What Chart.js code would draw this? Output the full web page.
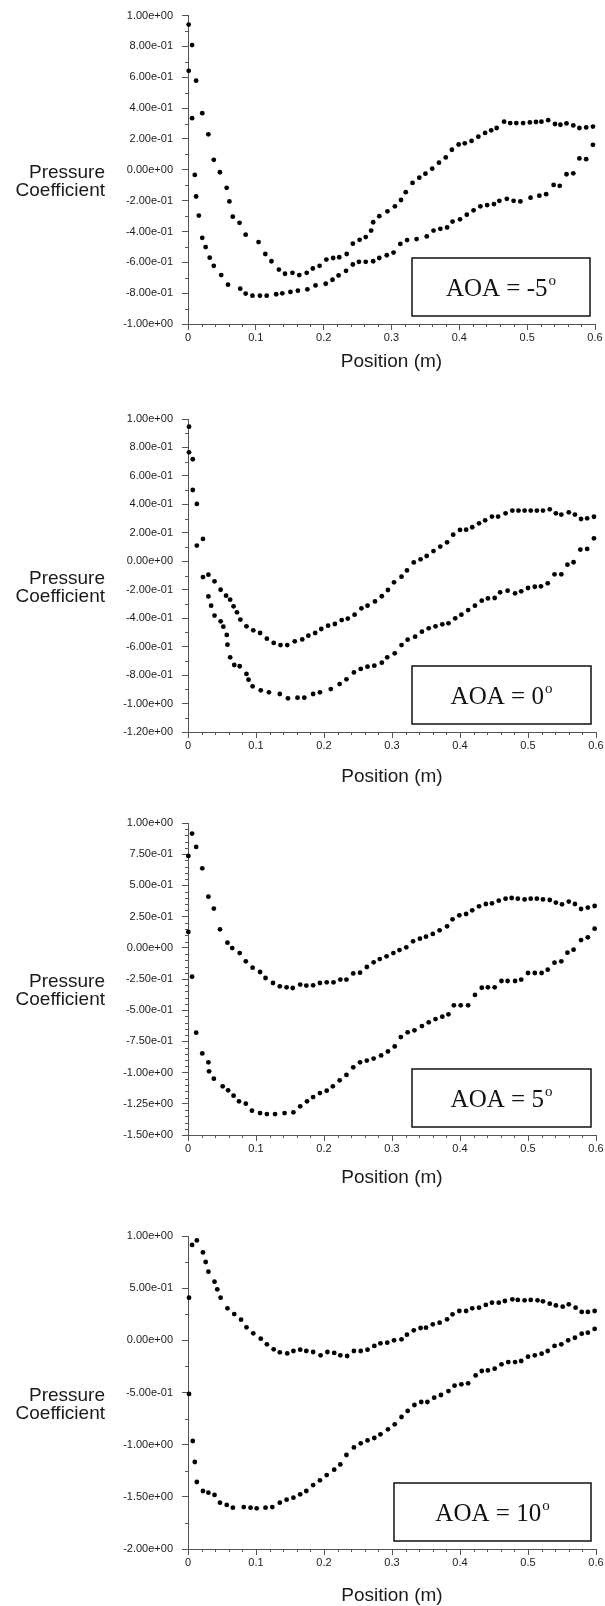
<!DOCTYPE html>
<html>
<head>
<meta charset="utf-8">
<title>Pressure Coefficient</title>
<script src="https://cdn.jsdelivr.net/npm/chart.js@4.4.1/dist/chart.umd.min.js"></script>
<style>
body { margin: 0; background: #fff; }
#page { position: relative; width: 605px; height: 1606px; overflow: hidden; }
#page canvas { position: absolute; left: 0; }
</style>
</head>
<body>
<div id="page">
    <canvas id="cpM5" width="605" height="390" style="top:0px"></canvas>
    <canvas id="cp0" width="605" height="400" style="top:390px"></canvas>
    <canvas id="cp5" width="605" height="400" style="top:790px"></canvas>
    <canvas id="cp10" width="605" height="416" style="top:1190px"></canvas>
</div>
<script>
"use strict";

// [position (m), Cp] for each surface
let aoaM5Upper = [[0.001,0.942],[0.006,0.809],[0.012,0.578],[0.021,0.367],[0.030,0.230],[0.038,0.065],[0.047,-0.016],[0.057,-0.117],[0.061,-0.205],[0.066,-0.304],[0.076,-0.344],[0.085,-0.421],[0.104,-0.469],[0.114,-0.546],[0.123,-0.593],[0.134,-0.647],[0.143,-0.674],[0.154,-0.668],[0.164,-0.683],[0.175,-0.668],[0.184,-0.640],[0.194,-0.623],[0.204,-0.582],[0.214,-0.572],[0.223,-0.567],[0.234,-0.546],[0.243,-0.479],[0.253,-0.454],[0.262,-0.436],[0.270,-0.394],[0.273,-0.340],[0.282,-0.301],[0.294,-0.269],[0.305,-0.237],[0.314,-0.196],[0.321,-0.145],[0.331,-0.085],[0.341,-0.051],[0.350,-0.025],[0.360,0.007],[0.370,0.046],[0.380,0.080],[0.389,0.130],[0.399,0.164],[0.408,0.172],[0.418,0.187],[0.428,0.215],[0.438,0.239],[0.447,0.256],[0.455,0.271],[0.466,0.312],[0.475,0.303],[0.484,0.303],[0.494,0.303],[0.504,0.307],[0.513,0.310],[0.521,0.312],[0.531,0.322],[0.541,0.297],[0.549,0.292],[0.558,0.301],[0.568,0.288],[0.577,0.271],[0.587,0.275],[0.597,0.280]];
let aoaM5Lower = [[0.001,0.642],[0.006,0.335],[0.010,-0.033],[0.012,-0.173],[0.016,-0.297],[0.021,-0.441],[0.026,-0.501],[0.032,-0.570],[0.038,-0.623],[0.049,-0.683],[0.059,-0.745],[0.077,-0.771],[0.085,-0.803],[0.095,-0.816],[0.106,-0.816],[0.116,-0.816],[0.130,-0.807],[0.139,-0.801],[0.151,-0.792],[0.162,-0.784],[0.176,-0.775],[0.188,-0.750],[0.203,-0.739],[0.213,-0.713],[0.222,-0.685],[0.233,-0.655],[0.243,-0.614],[0.252,-0.597],[0.262,-0.597],[0.273,-0.593],[0.282,-0.572],[0.293,-0.554],[0.303,-0.537],[0.313,-0.481],[0.323,-0.456],[0.337,-0.449],[0.352,-0.432],[0.362,-0.394],[0.372,-0.383],[0.382,-0.374],[0.390,-0.336],[0.401,-0.321],[0.411,-0.291],[0.421,-0.263],[0.431,-0.237],[0.441,-0.229],[0.451,-0.222],[0.459,-0.201],[0.470,-0.188],[0.480,-0.201],[0.490,-0.205],[0.505,-0.181],[0.518,-0.168],[0.528,-0.158],[0.539,-0.098],[0.548,-0.104],[0.558,-0.029],[0.568,-0.023],[0.577,0.074],[0.587,0.069],[0.597,0.162]];

let aoa0Upper = [[0.0015,0.946],[0.007,0.717],[0.013,0.403],[0.022,0.157],[0.030,-0.094],[0.039,-0.141],[0.048,-0.200],[0.056,-0.242],[0.062,-0.270],[0.067,-0.317],[0.072,-0.359],[0.077,-0.410],[0.086,-0.457],[0.096,-0.485],[0.106,-0.504],[0.116,-0.544],[0.126,-0.574],[0.136,-0.589],[0.146,-0.589],[0.157,-0.563],[0.168,-0.549],[0.177,-0.523],[0.187,-0.504],[0.196,-0.476],[0.206,-0.453],[0.216,-0.441],[0.226,-0.413],[0.235,-0.403],[0.245,-0.375],[0.255,-0.331],[0.264,-0.312],[0.275,-0.282],[0.285,-0.246],[0.294,-0.202],[0.303,-0.148],[0.314,-0.108],[0.322,-0.064],[0.332,-0.008],[0.342,0.014],[0.351,0.037],[0.361,0.072],[0.371,0.103],[0.381,0.133],[0.390,0.187],[0.400,0.220],[0.409,0.222],[0.418,0.239],[0.428,0.267],[0.437,0.288],[0.447,0.314],[0.456,0.314],[0.467,0.337],[0.477,0.356],[0.486,0.356],[0.495,0.356],[0.504,0.356],[0.513,0.356],[0.522,0.356],[0.532,0.365],[0.541,0.337],[0.549,0.328],[0.560,0.344],[0.569,0.328],[0.578,0.297],[0.587,0.302],[0.597,0.313]];
let aoa0Lower = [[0.0015,0.766],[0.007,0.501],[0.013,0.110],[0.022,-0.111],[0.030,-0.247],[0.034,-0.312],[0.039,-0.382],[0.048,-0.422],[0.052,-0.460],[0.057,-0.518],[0.058,-0.586],[0.062,-0.675],[0.068,-0.729],[0.076,-0.738],[0.086,-0.792],[0.089,-0.832],[0.095,-0.879],[0.107,-0.907],[0.119,-0.921],[0.135,-0.933],[0.147,-0.963],[0.161,-0.959],[0.171,-0.959],[0.184,-0.933],[0.194,-0.921],[0.210,-0.898],[0.223,-0.863],[0.233,-0.830],[0.244,-0.781],[0.254,-0.757],[0.264,-0.741],[0.274,-0.734],[0.285,-0.713],[0.293,-0.675],[0.304,-0.647],[0.314,-0.589],[0.323,-0.551],[0.334,-0.530],[0.344,-0.495],[0.354,-0.471],[0.364,-0.457],[0.374,-0.443],[0.383,-0.436],[0.393,-0.401],[0.402,-0.375],[0.412,-0.343],[0.422,-0.312],[0.432,-0.277],[0.441,-0.261],[0.451,-0.258],[0.459,-0.218],[0.470,-0.207],[0.481,-0.225],[0.490,-0.211],[0.500,-0.188],[0.510,-0.179],[0.519,-0.176],[0.529,-0.155],[0.539,-0.092],[0.549,-0.092],[0.558,-0.024],[0.567,-0.007],[0.577,0.082],[0.587,0.087],[0.597,0.161]];

let aoa5Upper = [[0.0005,0.736],[0.006,0.915],[0.012,0.808],[0.021,0.637],[0.030,0.410],[0.038,0.314],[0.047,0.148],[0.058,0.041],[0.065,-0.002],[0.076,-0.042],[0.085,-0.108],[0.095,-0.159],[0.106,-0.194],[0.114,-0.242],[0.125,-0.282],[0.135,-0.309],[0.145,-0.317],[0.154,-0.322],[0.165,-0.295],[0.174,-0.303],[0.184,-0.301],[0.194,-0.282],[0.204,-0.277],[0.214,-0.277],[0.224,-0.255],[0.233,-0.255],[0.243,-0.205],[0.253,-0.199],[0.263,-0.154],[0.273,-0.116],[0.282,-0.090],[0.292,-0.068],[0.302,-0.042],[0.311,-0.018],[0.321,0.004],[0.331,0.052],[0.341,0.073],[0.350,0.089],[0.360,0.111],[0.370,0.140],[0.381,0.172],[0.389,0.228],[0.399,0.260],[0.409,0.271],[0.418,0.300],[0.428,0.332],[0.438,0.351],[0.447,0.356],[0.457,0.378],[0.467,0.394],[0.476,0.399],[0.485,0.394],[0.495,0.388],[0.504,0.394],[0.513,0.394],[0.522,0.388],[0.532,0.383],[0.541,0.362],[0.550,0.348],[0.560,0.370],[0.569,0.351],[0.578,0.311],[0.588,0.322],[0.598,0.335]];
let aoa5Lower = [[0.0005,0.127],[0.006,-0.231],[0.012,-0.680],[0.021,-0.846],[0.030,-0.918],[0.031,-0.990],[0.038,-1.049],[0.051,-1.110],[0.059,-1.142],[0.067,-1.185],[0.075,-1.230],[0.085,-1.249],[0.094,-1.305],[0.106,-1.324],[0.116,-1.332],[0.128,-1.332],[0.142,-1.324],[0.155,-1.318],[0.165,-1.270],[0.175,-1.230],[0.184,-1.196],[0.194,-1.164],[0.204,-1.145],[0.213,-1.110],[0.223,-1.062],[0.233,-1.019],[0.243,-0.958],[0.253,-0.918],[0.263,-0.904],[0.273,-0.888],[0.284,-0.862],[0.294,-0.830],[0.304,-0.790],[0.313,-0.715],[0.323,-0.677],[0.333,-0.661],[0.344,-0.627],[0.354,-0.597],[0.364,-0.571],[0.374,-0.552],[0.383,-0.533],[0.391,-0.461],[0.401,-0.461],[0.412,-0.461],[0.422,-0.378],[0.432,-0.320],[0.441,-0.317],[0.451,-0.317],[0.461,-0.266],[0.470,-0.266],[0.481,-0.266],[0.490,-0.255],[0.500,-0.202],[0.510,-0.202],[0.520,-0.202],[0.529,-0.175],[0.539,-0.119],[0.549,-0.108],[0.558,-0.039],[0.567,-0.015],[0.578,0.062],[0.588,0.084],[0.598,0.153]];

let aoa10Upper = [[0.0015,0.409],[0.006,0.914],[0.013,0.958],[0.022,0.843],[0.026,0.751],[0.030,0.658],[0.039,0.562],[0.043,0.489],[0.048,0.409],[0.058,0.307],[0.068,0.252],[0.078,0.198],[0.086,0.125],[0.096,0.067],[0.107,0.016],[0.116,-0.038],[0.126,-0.086],[0.135,-0.115],[0.146,-0.125],[0.155,-0.102],[0.165,-0.090],[0.174,-0.102],[0.184,-0.112],[0.195,-0.144],[0.205,-0.112],[0.215,-0.121],[0.224,-0.144],[0.234,-0.150],[0.244,-0.102],[0.254,-0.102],[0.264,-0.090],[0.274,-0.054],[0.283,-0.029],[0.293,-0.022],[0.303,0.000],[0.314,0.010],[0.322,0.054],[0.332,0.096],[0.342,0.118],[0.350,0.121],[0.360,0.153],[0.370,0.169],[0.381,0.201],[0.389,0.249],[0.399,0.281],[0.409,0.281],[0.418,0.307],[0.428,0.313],[0.438,0.339],[0.447,0.361],[0.457,0.361],[0.466,0.377],[0.477,0.393],[0.485,0.387],[0.495,0.383],[0.504,0.387],[0.514,0.383],[0.522,0.374],[0.532,0.351],[0.541,0.335],[0.551,0.323],[0.560,0.345],[0.570,0.313],[0.579,0.272],[0.588,0.272],[0.598,0.281]];
let aoa10Lower = [[0.0015,-0.514],[0.007,-0.965],[0.010,-1.166],[0.013,-1.358],[0.022,-1.444],[0.030,-1.460],[0.039,-1.482],[0.047,-1.556],[0.057,-1.578],[0.066,-1.604],[0.082,-1.598],[0.092,-1.604],[0.101,-1.610],[0.114,-1.604],[0.124,-1.598],[0.135,-1.556],[0.145,-1.527],[0.155,-1.508],[0.165,-1.476],[0.174,-1.444],[0.184,-1.387],[0.194,-1.342],[0.204,-1.291],[0.215,-1.240],[0.224,-1.189],[0.233,-1.099],[0.244,-1.026],[0.254,-0.987],[0.264,-0.959],[0.274,-0.936],[0.283,-0.901],[0.294,-0.853],[0.304,-0.805],[0.314,-0.735],[0.323,-0.677],[0.333,-0.620],[0.343,-0.591],[0.352,-0.591],[0.362,-0.550],[0.372,-0.524],[0.383,-0.486],[0.392,-0.435],[0.402,-0.422],[0.412,-0.412],[0.423,-0.336],[0.432,-0.294],[0.441,-0.288],[0.451,-0.272],[0.461,-0.230],[0.471,-0.208],[0.481,-0.208],[0.490,-0.198],[0.500,-0.157],[0.510,-0.144],[0.520,-0.128],[0.529,-0.102],[0.539,-0.054],[0.549,-0.038],[0.559,0.000],[0.569,0.025],[0.579,0.064],[0.588,0.073],[0.598,0.109]];

let aoaLabels = ["-5", "0", "5", "10"];
let cpMin = [-1, -1.2, -1.5, -2];
let cpStep = [0.2, 0.2, 0.25, 0.5];
let cpMinorStep = [0.1, 0.1, 0.05, 0.25];
let posTicks = { min: 0, max: 0.6, step: 0.1, minor: 0.02 };

// where each plot sits inside its canvas
let layouts = [
    { id: "cpM5", top: 13, bottom: 324, right: 10, titleY: 362, boxW: 178 },
    { id: "cp0",  top: 29, bottom: 342, right: 9,  titleY: 387, boxW: 179 },
    { id: "cp5",  top: 33, bottom: 345, right: 9,  titleY: 388, boxW: 179 },
    { id: "cp10", top: 46, bottom: 359, right: 9,  titleY: 406, boxW: 197 }
];

let SANS = "'Liberation Sans', Arial, sans-serif";
let SERIF = "'Liberation Serif', 'Times New Roman', serif";
let AXIS = "#555";
let INK = "#1a1a1a";

function ToPoints(pairs) { return pairs.map(p => ({ x: p[0], y: p[1] })); }

function SciLabel(value) {
    let v = Math.round(value * 1000) / 1000;
    let parts = v.toExponential(2).split("e");
    let exp = parseInt(parts[1], 10);
    return parts[0] + "e" + (exp < 0 ? "-" : "+") + String(Math.abs(exp)).padStart(2, "0");
}

function IsMultiple(v, step) {
    let r = v / step;
    return Math.abs(r - Math.round(r)) < 1e-6;
}

// minor ticks, the side label and the AOA box
let decorPlugin = {
    id: "decor",
    afterDraw(chart, args, opts) {
        let ctx = chart.ctx;
        let area = chart.chartArea;
        let xs = chart.scales.x;
        let ys = chart.scales.y;

        ctx.save();
        ctx.strokeStyle = AXIS;
        ctx.lineWidth = 1;
        ctx.beginPath();
        let n = Math.round((ys.max - ys.min) / opts.yMinor);
        for (let k = 0; k <= n; k++) {
            let v = ys.min + k * opts.yMinor;
            if (IsMultiple(v - ys.min, opts.yMajor)) continue;
            let py = Math.round(ys.getPixelForValue(v)) + 0.5;
            ctx.moveTo(area.left - 3, py);
            ctx.lineTo(area.left, py);
        }
        n = Math.round((xs.max - xs.min) / posTicks.minor);
        for (let k = 0; k <= n; k++) {
            let v = xs.min + k * posTicks.minor;
            if (IsMultiple(v, posTicks.step)) continue;
            let px = Math.round(xs.getPixelForValue(v)) + 0.5;
            ctx.moveTo(px, area.bottom);
            ctx.lineTo(px, area.bottom + 3);
        }
        ctx.stroke();

        let mid = (area.top + area.bottom) / 2;
        ctx.fillStyle = INK;
        ctx.font = "19px " + SANS;
        ctx.textAlign = "right";
        ctx.textBaseline = "alphabetic";
        ctx.fillText("Pressure", 105, mid + 8);
        ctx.fillText("Coefficient", 105, mid + 26);

        let bw = opts.boxW, bh = 58;
        let bx = area.right - 5 - bw;
        let by = area.bottom - 8 - bh;
        ctx.fillStyle = "#fff";
        ctx.fillRect(bx, by, bw, bh);
        ctx.strokeStyle = "#111";
        ctx.lineWidth = 1.5;
        ctx.strokeRect(bx, by, bw, bh);

        let main = "AOA = " + opts.aoa;
        ctx.font = "25px " + SERIF;
        let mw = ctx.measureText(main).width;
        ctx.font = "15px " + SERIF;
        let sw = ctx.measureText("o").width;
        let tx = bx + (bw - mw - sw - 1) / 2;
        let base = by + bh / 2 + 8.5;
        ctx.fillStyle = "#111";
        ctx.textAlign = "left";
        ctx.font = "25px " + SERIF;
        ctx.fillText(main, tx, base);
        ctx.font = "15px " + SERIF;
        ctx.fillText("o", tx + mw + 1, base - 10.5);
        ctx.restore();
    }
};

function MakeChart(i, upper, lower) {
    let lay = layouts[i];
    let canvas = document.getElementById(lay.id);
    let h = canvas.height;
    let dot = { showLine: false, pointRadius: 2.4, pointHoverRadius: 2.4, pointBackgroundColor: "#000", pointBorderWidth: 0, clip: false };

    return new Chart(canvas, {
        type: "scatter",
        data: {
            datasets: [
                Object.assign({ label: "upper", data: ToPoints(upper) }, dot),
                Object.assign({ label: "lower", data: ToPoints(lower) }, dot)
            ]
        },
        options: {
            responsive: false,
            animation: false,
            events: [],
            layout: { padding: { left: 0, right: lay.right, top: lay.top, bottom: 0 } },
            plugins: {
                legend: { display: false },
                tooltip: { enabled: false },
                decor: { aoa: aoaLabels[i], boxW: lay.boxW, yMajor: cpStep[i], yMinor: cpMinorStep[i] }
            },
            scales: {
                x: {
                    type: "linear",
                    min: posTicks.min,
                    max: posTicks.max,
                    border: { color: AXIS, width: 1 },
                    grid: { drawOnChartArea: false, tickLength: 6, color: AXIS },
                    ticks: {
                        stepSize: posTicks.step,
                        padding: 1,
                        color: INK,
                        font: { family: SANS, size: 11 },
                        callback: v => String(Math.round(v * 10) / 10)
                    },
                    title: {
                        display: true,
                        text: "Position (m)",
                        color: INK,
                        font: { family: SANS, size: 19 },
                        padding: { top: 0, bottom: h - lay.titleY - 11.4 }
                    },
                    afterFit: s => { s.height = h - lay.bottom; }
                },
                y: {
                    type: "linear",
                    min: cpMin[i],
                    max: 1,
                    border: { color: AXIS, width: 1 },
                    grid: { drawOnChartArea: false, tickLength: 6, color: AXIS },
                    ticks: {
                        stepSize: cpStep[i],
                        maxTicksLimit: 50,
                        padding: 9,
                        color: INK,
                        font: { family: SANS, size: 11 },
                        callback: SciLabel
                    },
                    afterFit: s => { s.width = 188; }
                }
            }
        },
        plugins: [decorPlugin]
    });
}

MakeChart(0, aoaM5Upper, aoaM5Lower);
MakeChart(1, aoa0Upper, aoa0Lower);
MakeChart(2, aoa5Upper, aoa5Lower);
MakeChart(3, aoa10Upper, aoa10Lower);
</script>
</body>
</html>
